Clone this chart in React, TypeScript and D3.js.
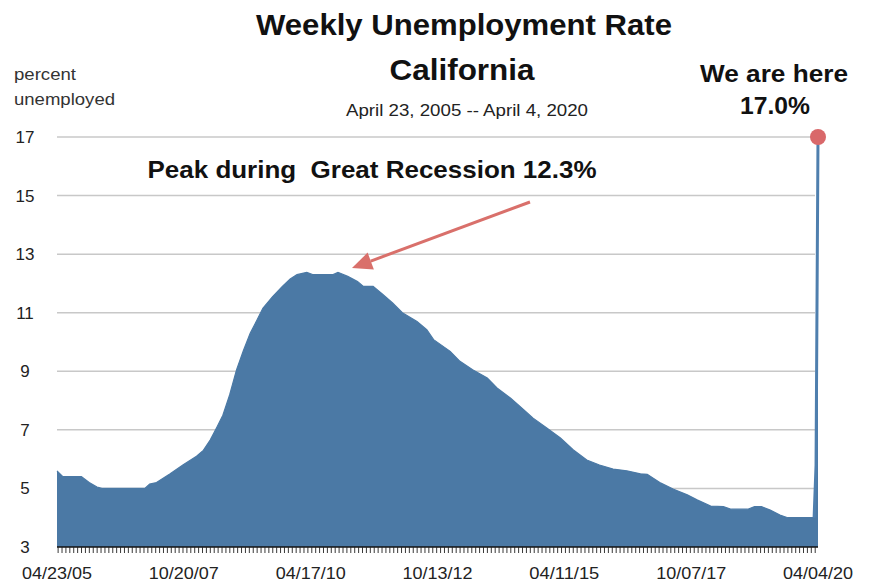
import React from "react";
import * as d3 from "d3";

const dates: string[] = [
  "2005-04-23","2005-06-04","2005-10-15","2005-12-10","2006-02-04","2006-03-11",
  "2007-01-13","2007-02-17","2007-04-07","2007-07-14","2007-10-13","2008-01-19",
  "2008-03-08","2008-04-26","2008-06-14","2008-07-26","2008-09-13","2008-11-01",
  "2008-12-20","2009-02-07","2009-03-28","2009-05-09","2009-07-18","2009-09-26",
  "2009-11-21","2010-01-09","2010-03-20","2010-05-01","2010-09-25","2010-10-30",
  "2011-01-08","2011-03-19","2011-04-30","2011-07-09","2011-09-17","2011-11-26",
  "2012-02-04","2012-05-19","2012-07-28","2012-09-15","2013-01-12","2013-03-23",
  "2013-06-22","2013-10-05","2013-12-14","2014-03-22","2014-06-21","2014-08-30",
  "2014-12-06","2015-03-14","2015-06-13","2015-09-19","2015-12-19","2016-03-26",
  "2016-07-02","2016-10-08","2016-11-26","2017-03-04","2017-06-03","2017-09-09",
  "2017-11-18","2018-02-24","2018-05-26","2018-07-21","2018-11-17","2019-01-05",
  "2019-02-23","2019-04-27","2019-07-06","2019-08-31","2020-03-07","2020-03-21",
  "2020-04-04"
];
const rates: number[] = [
  5.6,5.4,5.4,5.2,5.05,5.0,
  5.0,5.15,5.2,5.5,5.8,6.1,
  6.3,6.65,7.1,7.5,8.2,9.05,
  9.7,10.3,10.75,11.15,11.55,11.9,
  12.15,12.3,12.38,12.3,12.3,12.38,
  12.24,12.07,11.9,11.9,11.62,11.33,
  11.0,10.7,10.42,10.08,9.68,9.34,
  9.05,8.77,8.43,8.08,7.7,7.4,
  7.06,6.72,6.32,5.97,5.8,5.66,
  5.6,5.5,5.48,5.18,4.97,4.78,
  4.61,4.4,4.38,4.29,4.29,4.38,
  4.38,4.26,4.09,4.0,4.0,5.8,
  17.0
];
const yTicks: number[] = [3, 5, 7, 9, 11, 13, 15, 17];
const gridTicks: number[] = [5, 7, 9, 11, 13, 15, 17];
const xTickLabels: string[] = ["04/23/05","10/20/07","04/17/10","10/13/12","04/11/15","10/07/17","04/04/20"];

const W = 872, H = 584;
const font = "Liberation Sans, Arial, sans-serif";

export default function App() {
  const parse = d3.timeParse("%Y-%m-%d");
  const start = parse("2005-04-23") as Date;
  const end = parse("2020-04-04") as Date;
  const x = d3.scaleTime().domain([start, end]).range([57, 818]);
  const y = d3.scaleLinear().domain([3, 17]).range([547, 137]);
  const pts = dates.map((d, i) => ({ date: parse(d) as Date, v: rates[i] }));

  const area = d3.area<{ date: Date; v: number }>()
    .x(d => x(d.date)).y0(y(3)).y1(d => y(d.v)).curve(d3.curveLinear);
  const line = d3.line<{ date: Date; v: number }>()
    .x(d => x(d.date)).y(d => y(d.v));

  const minorTicks = d3.timeWeek.every(4)!.range(start, d3.timeDay.offset(end, 1));
  const labelDates = xTickLabels.map(s => d3.timeParse("%m/%d/%y")(s) as Date);

  const last = pts[pts.length - 1];
  const spike = pts.slice(-3);
  const ax1 = 530, ay1 = 202, ax2 = 352, ay2 = 268;
  const ang = Math.atan2(ay2 - ay1, ax2 - ax1);
  const hl = 20, hw = 9;
  const bx = ax2 - hl * Math.cos(ang), by = ay2 - hl * Math.sin(ang);
  const head = `M${ax2},${ay2}L${bx + hw * Math.sin(ang)},${by - hw * Math.cos(ang)}L${bx - hw * Math.sin(ang)},${by + hw * Math.cos(ang)}Z`;

  const stretch = { lengthAdjust: "spacingAndGlyphs" as const };

  return (
    <svg width={W} height={H} style={{ position: "absolute", left: 0, top: 0, background: "#fff" }} fontFamily={font}>
      {gridTicks.map(t => (
        <line key={t} x1={57} x2={815} y1={y(t)} y2={y(t)} stroke="#c8c8c8" strokeWidth={1.5} />
      ))}
      <path d={area(pts) || ""} fill="#4b79a5" />
      <path d={line(pts) || ""} fill="none" stroke="#4b79a5" strokeWidth={1.2} />
      <path d={line(spike) || ""} fill="none" stroke="#4f7fae" strokeWidth={3} />
      <line x1={57} x2={818} y1={547} y2={547} stroke="#111" strokeWidth={1.5} />
      {minorTicks.map((t, i) => (
        <line key={i} x1={x(t)} x2={x(t)} y1={547} y2={553} stroke="#222" strokeWidth={0.9} />
      ))}
      {yTicks.map(t => (
        <text key={t} x={25} y={y(t)} dy="0.35em" textAnchor="middle" fontSize={17} fill="#222">{t}</text>
      ))}
      {labelDates.map((d, i) => (
        <text key={i} x={x(d)} y={579} textAnchor="middle" fontSize={17} fill="#222" textLength={70} {...stretch}>{xTickLabels[i]}</text>
      ))}
      <text x={14} y={80} fontSize={16} fill="#333" textLength={62} {...stretch}>percent</text>
      <text x={14} y={105} fontSize={16} fill="#333" textLength={101} {...stretch}>unemployed</text>
      <text x={464} y={35} textAnchor="middle" fontSize={30} fontWeight="bold" fill="#111" textLength={416} {...stretch}>Weekly Unemployment Rate</text>
      <text x={462} y={80} textAnchor="middle" fontSize={30} fontWeight="bold" fill="#111" textLength={145} {...stretch}>California</text>
      <text x={467} y={116} textAnchor="middle" fontSize={16} fill="#222" textLength={242} {...stretch}>April 23, 2005 -- April 4, 2020</text>
      <text x={774} y={82} textAnchor="middle" fontSize={24} fontWeight="bold" fill="#111" textLength={148} {...stretch}>We are here</text>
      <text x={775} y={114} textAnchor="middle" fontSize={24} fontWeight="bold" fill="#111" textLength={70} {...stretch}>17.0%</text>
      <text x={372} y={178} textAnchor="middle" fontSize={24} fontWeight="bold" fill="#111" textLength={449} {...stretch} style={{ whiteSpace: "pre" }}>{"Peak during  Great Recession 12.3%"}</text>
      <line x1={ax1} y1={ay1} x2={bx} y2={by} stroke="#d9706b" strokeWidth={3} />
      <path d={head} fill="#d9706b" />
      <circle cx={x(last.date)} cy={y(last.v)} r={8} fill="#d9686a" />
    </svg>
  );
}
